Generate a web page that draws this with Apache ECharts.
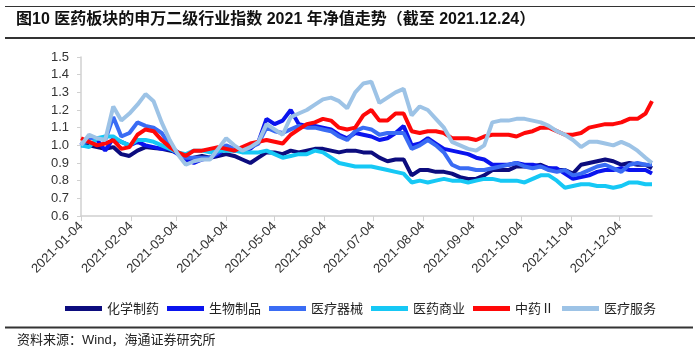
<!DOCTYPE html>
<html>
<head>
<meta charset="utf-8">
<script src="https://cdn.jsdelivr.net/npm/echarts@6/dist/echarts.min.js"></script>
<style>
  html, body { margin: 0; padding: 0; background: #fff; }
  #chart { width: 700px; height: 353px; }
</style>
</head>
<body>
<div id="chart"></div>
<script>
// sample dates (every 5 calendar days + last day)
var dates = [
  '2021-01-04','2021-01-09','2021-01-14','2021-01-19','2021-01-24','2021-01-29','2021-02-03','2021-02-08','2021-02-13','2021-02-18',
  '2021-02-23','2021-02-28','2021-03-05','2021-03-10','2021-03-15','2021-03-20','2021-03-25','2021-03-30',
  '2021-04-04','2021-04-09','2021-04-14','2021-04-19','2021-04-24','2021-04-29','2021-05-04','2021-05-09','2021-05-14','2021-05-19',
  '2021-05-24','2021-05-29','2021-06-03','2021-06-08','2021-06-13','2021-06-18','2021-06-23','2021-06-28',
  '2021-07-03','2021-07-08','2021-07-13','2021-07-18','2021-07-23','2021-07-28','2021-08-02','2021-08-07','2021-08-12','2021-08-17',
  '2021-08-22','2021-08-27','2021-09-01','2021-09-06','2021-09-11','2021-09-16','2021-09-21','2021-09-26',
  '2021-10-01','2021-10-06','2021-10-11','2021-10-16','2021-10-21','2021-10-26','2021-10-31','2021-11-05','2021-11-10','2021-11-15',
  '2021-11-20','2021-11-25','2021-11-30','2021-12-05','2021-12-10','2021-12-15','2021-12-20','2021-12-24'
];

var huaxuezhiyao = [
  1.00,1.00,0.99,0.98,0.99,0.95,0.94,0.97,0.99,0.985,0.98,0.97,0.96,0.92,0.93,0.94,0.93,0.94,
  0.95,0.94,0.92,0.90,0.93,0.96,0.96,0.95,0.97,0.96,0.97,0.98,0.98,0.97,0.96,0.97,0.97,0.96,
  0.96,0.93,0.91,0.92,0.92,0.83,0.86,0.86,0.85,0.85,0.84,0.82,0.81,0.81,0.83,0.86,0.86,0.86,
  0.88,0.88,0.88,0.89,0.87,0.86,0.86,0.84,0.89,0.90,0.91,0.92,0.91,0.89,0.90,0.89,0.89,0.87
];
var shengwuzhipin = [
  1.00,1.05,1.03,0.97,1.04,1.02,1.00,1.02,1.00,0.99,0.98,0.98,0.95,0.92,0.90,0.92,0.93,0.95,
  0.99,0.97,0.97,0.98,1.02,1.15,1.12,1.14,1.20,1.12,1.11,1.11,1.10,1.09,1.06,1.04,1.07,1.06,
  1.05,1.03,1.04,1.07,1.11,1.00,1.01,1.04,1.01,0.98,0.97,0.96,0.95,0.93,0.92,0.89,0.89,0.89,
  0.90,0.89,0.89,0.88,0.87,0.87,0.84,0.81,0.82,0.83,0.85,0.86,0.86,0.87,0.86,0.86,0.86,0.84
];
var yiliaoqixie = [
  1.00,1.04,1.04,1.03,1.16,1.05,1.07,1.13,1.11,1.10,1.07,1.00,0.96,0.93,0.93,0.93,0.93,0.96,
  1.00,0.98,0.97,0.99,1.01,1.10,1.08,1.07,1.09,1.11,1.10,1.10,1.09,1.08,1.05,1.03,1.08,1.10,
  1.09,1.06,1.07,1.07,1.07,0.98,1.00,1.03,1.00,0.96,0.89,0.87,0.87,0.86,0.86,0.87,0.88,0.89,
  0.90,0.88,0.87,0.88,0.86,0.85,0.86,0.83,0.84,0.86,0.88,0.89,0.87,0.85,0.89,0.90,0.89,0.89
];
var yiyaoshangye = [
  1.00,0.99,1.04,1.05,1.05,1.02,1.00,1.03,1.03,1.02,1.00,0.98,0.96,0.95,0.97,0.97,0.96,0.97,
  0.97,0.97,0.96,0.96,0.96,0.97,0.95,0.93,0.94,0.95,0.95,0.97,0.96,0.93,0.90,0.89,0.88,0.88,
  0.88,0.87,0.86,0.85,0.84,0.79,0.80,0.79,0.80,0.81,0.80,0.80,0.79,0.80,0.81,0.81,0.80,0.80,
  0.80,0.79,0.81,0.83,0.83,0.80,0.76,0.77,0.78,0.78,0.77,0.77,0.76,0.77,0.79,0.79,0.78,0.78
];
var zhongyao = [
  1.04,1.02,1.00,1.01,1.03,0.98,0.99,1.06,1.09,1.08,1.03,0.99,0.96,0.94,0.97,0.97,0.98,0.99,
  0.98,0.97,0.99,1.01,1.02,1.03,1.02,1.01,1.06,1.09,1.12,1.13,1.15,1.14,1.10,1.09,1.10,1.17,
  1.20,1.14,1.14,1.18,1.18,1.08,1.07,1.08,1.08,1.07,1.04,1.04,1.04,1.03,1.05,1.06,1.06,1.06,
  1.05,1.07,1.08,1.10,1.10,1.08,1.06,1.06,1.07,1.10,1.11,1.12,1.12,1.13,1.15,1.15,1.18,1.25
];
var yiliaofuwu = [
  1.00,1.06,1.04,1.03,1.22,1.14,1.18,1.23,1.29,1.25,1.13,1.03,0.95,0.89,0.91,0.92,0.92,0.98,
  1.04,1.00,0.97,0.99,1.02,1.12,1.09,1.06,1.16,1.18,1.20,1.23,1.26,1.27,1.25,1.21,1.30,1.35,
  1.36,1.24,1.27,1.30,1.32,1.17,1.22,1.20,1.15,1.10,1.02,1.00,0.98,0.97,1.00,1.13,1.14,1.14,
  1.15,1.15,1.14,1.13,1.11,1.08,1.06,1.03,0.99,1.02,1.02,1.01,1.00,1.02,1.00,0.97,0.93,0.90
];

var names = ['化学制药', '生物制品', '医疗器械', '医药商业', '中药Ⅱ', '医疗服务'];
var colors = ['#0c0c7e', '#0a14ee', '#3a6cf4', '#16c8f5', '#ff0808', '#9dc3e6'];
var values = [huaxuezhiyao, shengwuzhipin, yiliaoqixie, yiyaoshangye, zhongyao, yiliaofuwu];

// x ticks on the 4th of each month
var tickDates = ['2021-01-04','2021-02-04','2021-03-04','2021-04-04','2021-05-04','2021-06-04',
  '2021-07-04','2021-08-04','2021-09-04','2021-10-04','2021-11-04','2021-12-04'];

var DAY = 86400000;
function dayNo(s) { // days since 2021-01-04
  var p = s.split('-');
  return Math.round((Date.UTC(+p[0], +p[1] - 1, +p[2]) - Date.UTC(2021, 0, 4)) / DAY);
}
function dayLabel(n) {
  var d = new Date(Date.UTC(2021, 0, 4) + n * DAY);
  var m = d.getUTCMonth() + 1, dd = d.getUTCDate();
  return d.getUTCFullYear() + '-' + (m < 10 ? '0' : '') + m + '-' + (dd < 10 ? '0' : '') + dd;
}
var tickDays = tickDates.map(dayNo);

var series = names.map(function (n, i) {
  return {
    name: n,
    type: 'line',
    symbol: 'none',
    smooth: false,
    data: dates.map(function (d, j) { return [dayNo(d), values[i][j]]; }),
    lineStyle: { width: 4, color: colors[i] },
    itemStyle: { color: colors[i] }
  };
});

var myChart = echarts.init(document.getElementById('chart'));
myChart.setOption({
  animation: false,
  title: {
    text: '图10 医药板块的申万二级行业指数 2021 年净值走势（截至 2021.12.24）',
    left: 16,
    top: 12,
    padding: 0,
    textStyle: {
      fontFamily: 'Liberation Sans, Noto Sans CJK SC',
      fontSize: 16,
      fontWeight: 'bold',
      color: '#111'
    }
  },
  graphic: [
    { type: 'line', shape: { x1: 5, y1: 6.5, x2: 695, y2: 6.5 }, style: { stroke: '#333', lineWidth: 1 } },
    { type: 'line', shape: { x1: 5, y1: 38, x2: 695, y2: 38 }, style: { stroke: '#333', lineWidth: 2 } },
    { type: 'line', shape: { x1: 5, y1: 327.5, x2: 693, y2: 327.5 }, style: { stroke: '#333', lineWidth: 2 } },
    {
      type: 'text', left: 17, top: 334,
      style: { text: '资料来源：Wind，海通证券研究所', font: '13px "Liberation Sans", "Noto Sans CJK SC"', fill: '#222' }
    }
  ],
  legend: {
    data: names,
    left: 60,
    top: 297,
    itemWidth: 37,
    itemHeight: 5,
    itemGap: 8,
    icon: 'rect',
    textStyle: { fontFamily: 'Noto Sans CJK SC', fontSize: 13, color: '#222' }
  },
  grid: {
    left: 81,
    right: 48,
    top: 57,
    bottom: 137
  },
  xAxis: {
    type: 'value',
    min: 0,
    max: dayNo('2021-12-24'),
    splitLine: { show: false },
    axisLine: { lineStyle: { color: '#d0d0d0', width: 1.5 } },
    axisTick: { show: true, customValues: tickDays, length: 5, lineStyle: { color: '#d0d0d0' } },
    axisLabel: {
      customValues: tickDays,
      rotate: 45,
      margin: 8,
      fontFamily: 'Liberation Sans',
      fontSize: 13,
      color: '#333',
      formatter: function (v) { return dayLabel(v); }
    }
  },
  yAxis: {
    type: 'value',
    min: 0.6,
    max: 1.5,
    interval: 0.1,
    splitLine: { show: false },
    axisLine: { show: true, lineStyle: { color: '#d0d0d0', width: 1.5 } },
    axisTick: { show: true, inside: false, length: 4, lineStyle: { color: '#d0d0d0' } },
    axisLabel: {
      margin: 12,
      fontFamily: 'Liberation Sans',
      fontSize: 13,
      color: '#333',
      formatter: function (v) { return v.toFixed(1); }
    }
  },
  series: series
});
</script>
</body>
</html>
